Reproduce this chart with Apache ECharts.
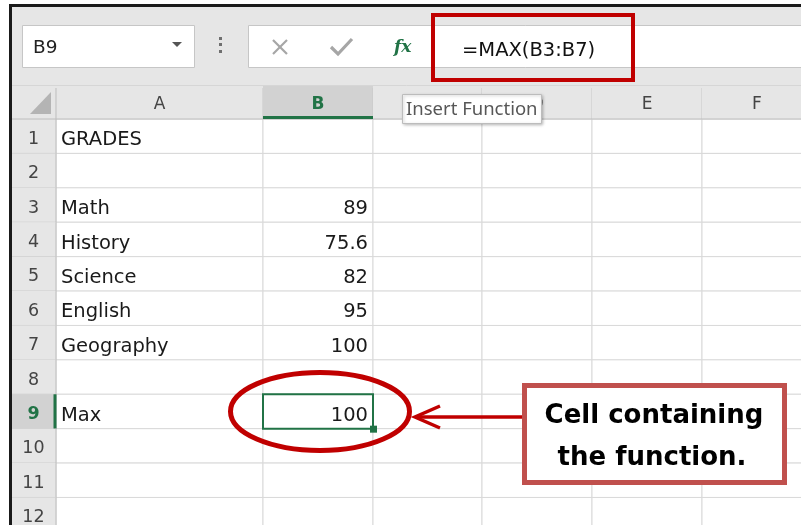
<!DOCTYPE html>
<html><head><meta charset="utf-8">
<script src="https://cdn.jsdelivr.net/npm/echarts@6/dist/echarts.min.js"></script>
<style>html,body{margin:0;padding:0;background:#fff}#c{width:801px;height:525px}</style>
</head><body><div id="c"></div>
<script>
// ---------- data ----------
const columns = ['A', 'B', 'C', 'D', 'E', 'F'];
const rowNumbers = [1, 2, 3, 4, 5, 6, 7, 8, 9, 10, 11, 12];
const sheetTitle = 'GRADES';
const subjects = ['Math', 'History', 'Science', 'English', 'Geography'];
const grades = [89, 75.6, 82, 95, 100];
const subjectRows = [3, 4, 5, 6, 7];
const maxLabel = 'Max';
const maxValue = 100;
const maxRow = 9;
const activeCell = 'B9';
const formulaText = '=MAX(B3:B7)';
const tooltipText = 'Insert Function';
const calloutLines = ['Cell containing', 'the function.'];

// ---------- layout (not data) ----------
const HDR_W = 44;
const COL_W = [207, 110, 109, 110, 110, 110];
const COL_X = [];
(function () { let a = 0; COL_W.forEach(w => { COL_X.push(a); a += w; }); })();
const HEAD_TOP = -0.96;
const FONT = '"DejaVu Sans"';
const GREEN = '#217346';
const RED = '#c00000';

const textItems = [];
textItems.push({ col: 0, row: 1, text: sheetTitle, align: 'left' });
subjects.forEach((s, i) => textItems.push({ col: 0, row: subjectRows[i], text: s, align: 'left' }));
grades.forEach((g, i) => textItems.push({ col: 1, row: subjectRows[i], text: String(g), align: 'right' }));
textItems.push({ col: 0, row: maxRow, text: maxLabel, align: 'left' });
textItems.push({ col: 1, row: maxRow, text: String(maxValue), align: 'right' });

const activeCol = columns.indexOf(activeCell[0]);
const activeRow = parseInt(activeCell.slice(1), 10);

function rectFrom(api) {
  const p0 = api.coord([api.value(0), api.value(1)]);
  const p1 = api.coord([api.value(2), api.value(3)]);
  return { x: p0[0], y: p0[1], width: p1[0] - p0[0], height: p1[1] - p0[1] };
}

const cellData = [];
rowNumbers.forEach(r => columns.forEach((c, i) => cellData.push([COL_X[i], r - 1, COL_X[i] + COL_W[i], r])));

const chart = echarts.init(document.getElementById('c'));
chart.setOption({
  animation: false,
  backgroundColor: '#ffffff',
  grid: { left: 12, right: 0, top: 86, bottom: 0, containLabel: false },
  xAxis: { type: 'value', min: -HDR_W, max: 745, show: false },
  yAxis: { type: 'value', min: HEAD_TOP, max: 11.8, inverse: true, show: false },
  series: [
    { // cells
      type: 'custom', z: 1, silent: true,
      data: cellData,
      renderItem: (params, api) => {
        const r = rectFrom(api);
        return { type: 'rect', shape: r, style: { fill: '#ffffff', stroke: '#d9d9d9', lineWidth: 1 } };
      }
    },
    { // column headers
      type: 'custom', z: 3, silent: true,
      data: columns.map((c, i) => [COL_X[i], HEAD_TOP, COL_X[i] + COL_W[i], 0]),
      renderItem: (params, api) => {
        const r = rectFrom(api);
        const sel = params.dataIndex === activeCol;
        const ch = [
          { type: 'rect', shape: r, style: { fill: sel ? '#d2d2d2' : '#e6e6e6' } },
          { type: 'line', shape: { x1: r.x + r.width, y1: r.y + 2, x2: r.x + r.width, y2: r.y + r.height }, style: { stroke: '#c8c8c8', lineWidth: 1 } },
          { type: 'line', shape: { x1: r.x, y1: r.y + r.height, x2: r.x + r.width, y2: r.y + r.height }, style: { stroke: '#bdbdbd', lineWidth: 1 } },
          { type: 'text', x: r.x + r.width / 2, y: r.y + r.height / 2 + 2,
            style: { text: columns[params.dataIndex], align: 'center', verticalAlign: 'middle',
              font: (sel ? 'bold ' : '') + '17px ' + FONT, fill: sel ? GREEN : '#444444' } }
        ];
        if (sel) ch.push({ type: 'line', shape: { x1: r.x, y1: r.y + r.height - 1.5, x2: r.x + r.width, y2: r.y + r.height - 1.5 }, style: { stroke: GREEN, lineWidth: 3 } });
        return { type: 'group', children: ch };
      }
    },
    { // row headers
      type: 'custom', z: 3, silent: true,
      data: rowNumbers.map(r => [-HDR_W, r - 1, 0, r]),
      renderItem: (params, api) => {
        const r = rectFrom(api);
        const num = rowNumbers[params.dataIndex];
        const sel = num === activeRow;
        const ch = [
          { type: 'rect', shape: r, style: { fill: sel ? '#d2d2d2' : '#e6e6e6' } },
          { type: 'line', shape: { x1: r.x, y1: r.y + r.height, x2: r.x + r.width, y2: r.y + r.height }, style: { stroke: '#cacaca', lineWidth: 1 } },
          { type: 'line', shape: { x1: r.x + r.width, y1: r.y, x2: r.x + r.width, y2: r.y + r.height }, style: { stroke: '#bdbdbd', lineWidth: 1 } },
          { type: 'text', x: r.x + r.width / 2 - 0.5, y: r.y + r.height / 2 + 3,
            style: { text: String(num), align: 'center', verticalAlign: 'middle',
              font: (sel ? 'bold ' : '') + '17.5px ' + FONT, fill: sel ? GREEN : '#444444' } }
        ];
        if (sel) ch.push({ type: 'line', shape: { x1: r.x + r.width - 1, y1: r.y, x2: r.x + r.width - 1, y2: r.y + r.height }, style: { stroke: GREEN, lineWidth: 3 } });
        return { type: 'group', children: ch };
      }
    },
    { // corner
      type: 'custom', z: 3, silent: true,
      data: [[-HDR_W, HEAD_TOP, 0, 0]],
      renderItem: (params, api) => {
        const r = rectFrom(api);
        const R = r.x + r.width, B = r.y + r.height;
        return { type: 'group', children: [
          { type: 'rect', shape: r, style: { fill: '#e6e6e6' } },
          { type: 'line', shape: { x1: R, y1: r.y + 2, x2: R, y2: B }, style: { stroke: '#bdbdbd', lineWidth: 1 } },
          { type: 'line', shape: { x1: r.x, y1: B, x2: R, y2: B }, style: { stroke: '#bdbdbd', lineWidth: 1 } },
          { type: 'polygon', shape: { points: [[R - 26, B - 5], [R - 5, B - 5], [R - 5, B - 27]] }, style: { fill: '#b4b4b4' } }
        ] };
      }
    },
    { // cell texts
      type: 'custom', z: 4, silent: true,
      data: textItems.map(t => [t.align === 'left' ? COL_X[t.col] + 5 : COL_X[t.col] + COL_W[t.col] - 5, t.row - 0.5]),
      renderItem: (params, api) => {
        const p = api.coord([api.value(0), api.value(1)]);
        const t = textItems[params.dataIndex];
        return { type: 'text', x: p[0], y: p[1] + 4,
          style: { text: t.text, align: t.align, verticalAlign: 'middle', font: '19.5px ' + FONT, fill: '#1a1a1a' } };
      }
    },
    { // active cell selection
      type: 'custom', z: 5, silent: true,
      data: [[COL_X[activeCol], activeRow - 1, COL_X[activeCol] + COL_W[activeCol], activeRow]],
      renderItem: (params, api) => {
        const r = rectFrom(api);
        return { type: 'group', children: [
          { type: 'rect', shape: { x: r.x, y: r.y, width: r.width, height: r.height }, style: { fill: 'none', stroke: GREEN, lineWidth: 2 } },
          { type: 'rect', shape: { x: r.x + r.width - 3, y: r.y + r.height - 3, width: 7, height: 7 }, style: { fill: GREEN } }
        ] };
      }
    },
    { // red ellipse around the active cell
      type: 'custom', z: 6, silent: true,
      data: [[COL_X[activeCol] + COL_W[activeCol] / 2, activeRow - 0.5]],
      renderItem: (params, api) => {
        const p = api.coord([api.value(0), api.value(1)]);
        return { type: 'ellipse', shape: { cx: p[0] + 2, cy: p[1], rx: 89.5, ry: 39 }, style: { fill: 'none', stroke: RED, lineWidth: 5 } };
      }
    }
  ],
  graphic: [
    // outer frame
    { type: 'rect', z: 10, shape: { x: 9, y: 4, width: 800, height: 3 }, style: { fill: '#1a1a1a' } },
    { type: 'rect', z: 10, shape: { x: 9, y: 4, width: 3, height: 530 }, style: { fill: '#1a1a1a' } },
    // formula bar area
    { type: 'rect', z: 9, shape: { x: 12, y: 7, width: 789, height: 79 }, style: { fill: '#e6e6e6' } },
    { type: 'line', z: 9, shape: { x1: 12, y1: 85.5, x2: 801, y2: 85.5 }, style: { stroke: '#d6d6d6', lineWidth: 1 } },
    // name box
    { type: 'rect', z: 10, shape: { x: 22.5, y: 25.5, width: 172, height: 42 }, style: { fill: '#ffffff', stroke: '#c6c6c6', lineWidth: 1 } },
    { type: 'text', z: 11, x: 33, y: 48, style: { text: activeCell, font: '18.5px ' + FONT, fill: '#222222', verticalAlign: 'middle' } },
    { type: 'polygon', z: 11, shape: { points: [[172, 42], [182, 42], [177, 47]] }, style: { fill: '#555555' } },
    // dots
    { type: 'rect', z: 11, shape: { x: 219, y: 37, width: 3, height: 3 }, style: { fill: '#6f6f6f' } },
    { type: 'rect', z: 11, shape: { x: 219, y: 43, width: 3, height: 3 }, style: { fill: '#6f6f6f' } },
    { type: 'rect', z: 11, shape: { x: 219, y: 50, width: 3, height: 3 }, style: { fill: '#6f6f6f' } },
    // formula box
    { type: 'rect', z: 10, shape: { x: 248.5, y: 25.5, width: 560, height: 42 }, style: { fill: '#ffffff', stroke: '#c6c6c6', lineWidth: 1 } },
    { type: 'line', z: 11, shape: { x1: 273, y1: 40, x2: 287, y2: 54 }, style: { stroke: '#a6a6a6', lineWidth: 2.2 } },
    { type: 'line', z: 11, shape: { x1: 287, y1: 40, x2: 273, y2: 54 }, style: { stroke: '#a6a6a6', lineWidth: 2.2 } },
    { type: 'polyline', z: 11, shape: { points: [[331, 47], [338, 54], [352, 39]] }, style: { stroke: '#a6a6a6', lineWidth: 3.2, fill: 'none' } },
    { type: 'text', z: 11, x: 394, y: 48, style: { text: 'fx', font: 'italic bold 17px "DejaVu Serif"', fill: GREEN, verticalAlign: 'middle' } },
    { type: 'text', z: 11, x: 462, y: 51, style: { text: formulaText, font: '19.5px ' + FONT, fill: '#111111', verticalAlign: 'middle' } },
    { type: 'rect', z: 12, shape: { x: 433, y: 15, width: 200, height: 65 }, style: { fill: 'none', stroke: RED, lineWidth: 4 } },
    // tooltip
    { type: 'rect', z: 20, shape: { x: 402.5, y: 94.5, width: 139, height: 29 },
      style: { fill: '#ffffff', stroke: '#bcbcbc', lineWidth: 1, shadowBlur: 3, shadowColor: 'rgba(0,0,0,0.25)', shadowOffsetX: 1, shadowOffsetY: 1 } },
    { type: 'text', z: 21, x: 406, y: 110, style: { text: tooltipText, font: '18.5px "Noto Sans"', fill: '#575757', verticalAlign: 'middle' } },
    // arrow
    { type: 'line', z: 20, shape: { x1: 522, y1: 417, x2: 416, y2: 417 }, style: { stroke: RED, lineWidth: 3.5 } },
    { type: 'polyline', z: 20, shape: { points: [[440, 406], [415, 417], [440, 428]] }, style: { stroke: RED, lineWidth: 3.5, fill: 'none' } },
    // callout
    { type: 'rect', z: 20, shape: { x: 524.5, y: 385.5, width: 260, height: 97 }, style: { fill: '#ffffff', stroke: '#c0504d', lineWidth: 5 } },
    { type: 'text', z: 21, x: 654, y: 416, style: { text: calloutLines[0], font: 'bold 26px ' + FONT, fill: '#000000', align: 'center', verticalAlign: 'middle' } },
    { type: 'text', z: 21, x: 652, y: 458, style: { text: calloutLines[1], font: 'bold 26px ' + FONT, fill: '#000000', align: 'center', verticalAlign: 'middle' } }
  ]
});
</script>
</body></html>
